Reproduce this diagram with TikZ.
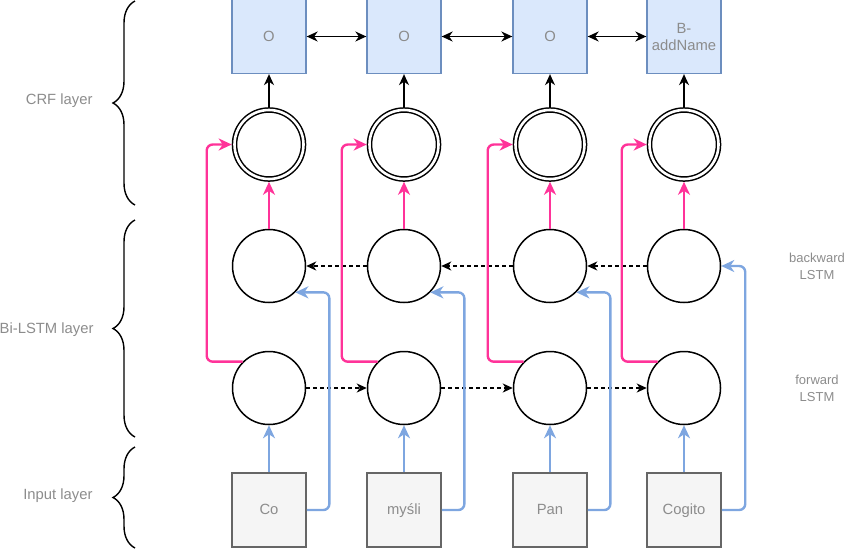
\documentclass[tikz,border=0pt]{standalone}
\usepackage{fontspec}
\setmainfont{Liberation Sans}
\usepackage{tikz}
\usepackage{xcolor}
\usetikzlibrary{arrows.meta,positioning,decorations.pathreplacing}
\definecolor{tagbg}{HTML}{DAE8FC}
\definecolor{tagline}{HTML}{6C8EBF}
\definecolor{wordbg}{HTML}{F5F5F5}
\definecolor{wordline}{HTML}{666666}
\definecolor{labelgray}{HTML}{8C8C8C}
\definecolor{crfpink}{HTML}{FF3399}
\definecolor{inblue}{HTML}{7EA6E0}

\begin{document}
\begin{tikzpicture}[x=1pt,y=-1pt,
    txt/.style={text=labelgray,font=\fontsize{14.8}{17}\selectfont},
    tagbox/.style={txt,draw=tagline,fill=tagbg,line width=1.3pt,minimum size=74pt,
                   inner sep=2pt,align=center},
    wordbox/.style={txt,draw=wordline,fill=wordbg,line width=1.5pt,minimum size=74pt,
                    inner sep=2pt,text height=11pt,text depth=3pt},
    cell/.style={circle,draw,line width=1.5pt,minimum size=73pt,inner sep=0pt},
    crfcell/.style={circle,draw,double,double distance=2.6pt,line width=1.5pt,
                    minimum size=69pt,inner sep=0pt,outer sep=2.8pt},
    pinkline/.style={draw=crfpink,line width=2.4pt,rounded corners=6pt,
                     -{Stealth[length=13pt,width=12pt,inset=4pt]}},
    blueline/.style={draw=inblue,line width=2.4pt,rounded corners=6pt,
                     -{Stealth[length=13pt,width=12pt,inset=4pt]}},
    tagarrow/.style={line width=1.5pt,-{Stealth[length=11pt,width=10pt,inset=3.5pt]}},
    tagpair/.style={line width=1.5pt,
      {Stealth[length=11pt,width=10pt,inset=3.5pt]}-{Stealth[length=11pt,width=10pt,inset=3.5pt]}},
    timearrow/.style={line width=1.4pt,dash pattern=on 4pt off 3pt,
                      -{Stealth[length=10pt,width=9pt,inset=3pt]}},
    layerbrace/.style={line width=1.4pt,decorate,decoration={brace,amplitude=22pt}}]
  \useasboundingbox (0,0) rectangle (850,550);

  % output tags
  \node[tagbox] (t1) at (269,36.5) {O};
  \node[tagbox] (t2) at (404,36.5) {O};
  \node[tagbox] (t3) at (550,36.5) {O};
  \node[tagbox] (t4) at (684,36.5) {B-\\addName};

  % crf cells
  \node[crfcell] (c1) at (269,144.5) {};
  \node[crfcell] (c2) at (404,144.5) {};
  \node[crfcell] (c3) at (550,144.5) {};
  \node[crfcell] (c4) at (684,144.5) {};

  % backward lstm
  \node[cell] (b1) at (269,266) {};
  \node[cell] (b2) at (404,266) {};
  \node[cell] (b3) at (550,266) {};
  \node[cell] (b4) at (684,266) {};

  % forward lstm
  \node[cell] (f1) at (269,388) {};
  \node[cell] (f2) at (404,388) {};
  \node[cell] (f3) at (550,388) {};
  \node[cell] (f4) at (684,388) {};

  % input words
  \node[wordbox] (w1) at (269,510) {Co};
  \node[wordbox] (w2) at (404,510) {myśli};
  \node[wordbox] (w3) at (550,510) {Pan};
  \node[wordbox] (w4) at (684,510) {Cogito};

  % layer labels
  \node[txt,anchor=east] (crflab) at (96,101) {CRF layer};
  \node[txt,anchor=east] (lstmlab) at (97,330) {Bi-LSTM layer};
  \node[txt,anchor=east] (inlab) at (96,496) {Input layer};
  \node[txt,font=\fontsize{13}{17}\selectfont,align=center] (bwdlab) at (817,266)
    {backward\\LSTM};
  \node[txt,font=\fontsize{13}{17}\selectfont,align=center] (fwdlab) at (817,388)
    {forward\\LSTM};

  \draw[layerbrace] (135,205) -- (135,1);
  \draw[layerbrace] (135,437) -- (135,220);
  \draw[layerbrace] (135,548) -- (135,447);

  % tag transitions
  \draw[tagpair] (t1) -- (t2);
  \draw[tagpair] (t2) -- (t3);
  \draw[tagpair] (t3) -- (t4);
  \draw[tagarrow] (c1) -- (t1);
  \draw[tagarrow] (c2) -- (t2);
  \draw[tagarrow] (c3) -- (t3);
  \draw[tagarrow] (c4) -- (t4);

  % recurrent links
  \draw[timearrow] (f1) -- (f2);
  \draw[timearrow] (f2) -- (f3);
  \draw[timearrow] (f3) -- (f4);
  \draw[timearrow] (b2) -- (b1);
  \draw[timearrow] (b3) -- (b2);
  \draw[timearrow] (b4) -- (b3);

  % lstm outputs into crf
  \draw[pinkline] (b1) -- (c1);
  \draw[pinkline] (b2) -- (c2);
  \draw[pinkline] (b3) -- (c3);
  \draw[pinkline] (b4) -- (c4);
  \draw[pinkline] (f1.135) -| ([xshift=-25pt]c1.west) -- (c1.west);
  \draw[pinkline] (f2.135) -| ([xshift=-25pt]c2.west) -- (c2.west);
  \draw[pinkline] (f3.135) -| ([xshift=-25pt]c3.west) -- (c3.west);
  \draw[pinkline] (f4.135) -| ([xshift=-25pt]c4.west) -- (c4.west);

  % words into lstm
  \draw[blueline] (w1) -- (f1);
  \draw[blueline] (w2) -- (f2);
  \draw[blueline] (w3) -- (f3);
  \draw[blueline] (w4) -- (f4);
  \draw[blueline] (w1.east) -| ([xshift=34pt]b1.-45) -- (b1.-45);
  \draw[blueline] (w2.east) -| ([xshift=34pt]b2.-45) -- (b2.-45);
  \draw[blueline] (w3.east) -| ([xshift=34pt]b3.-45) -- (b3.-45);
  \draw[blueline] (w4.east) -| ([xshift=24pt]b4.east) -- (b4.east);
\end{tikzpicture}
\end{document}
